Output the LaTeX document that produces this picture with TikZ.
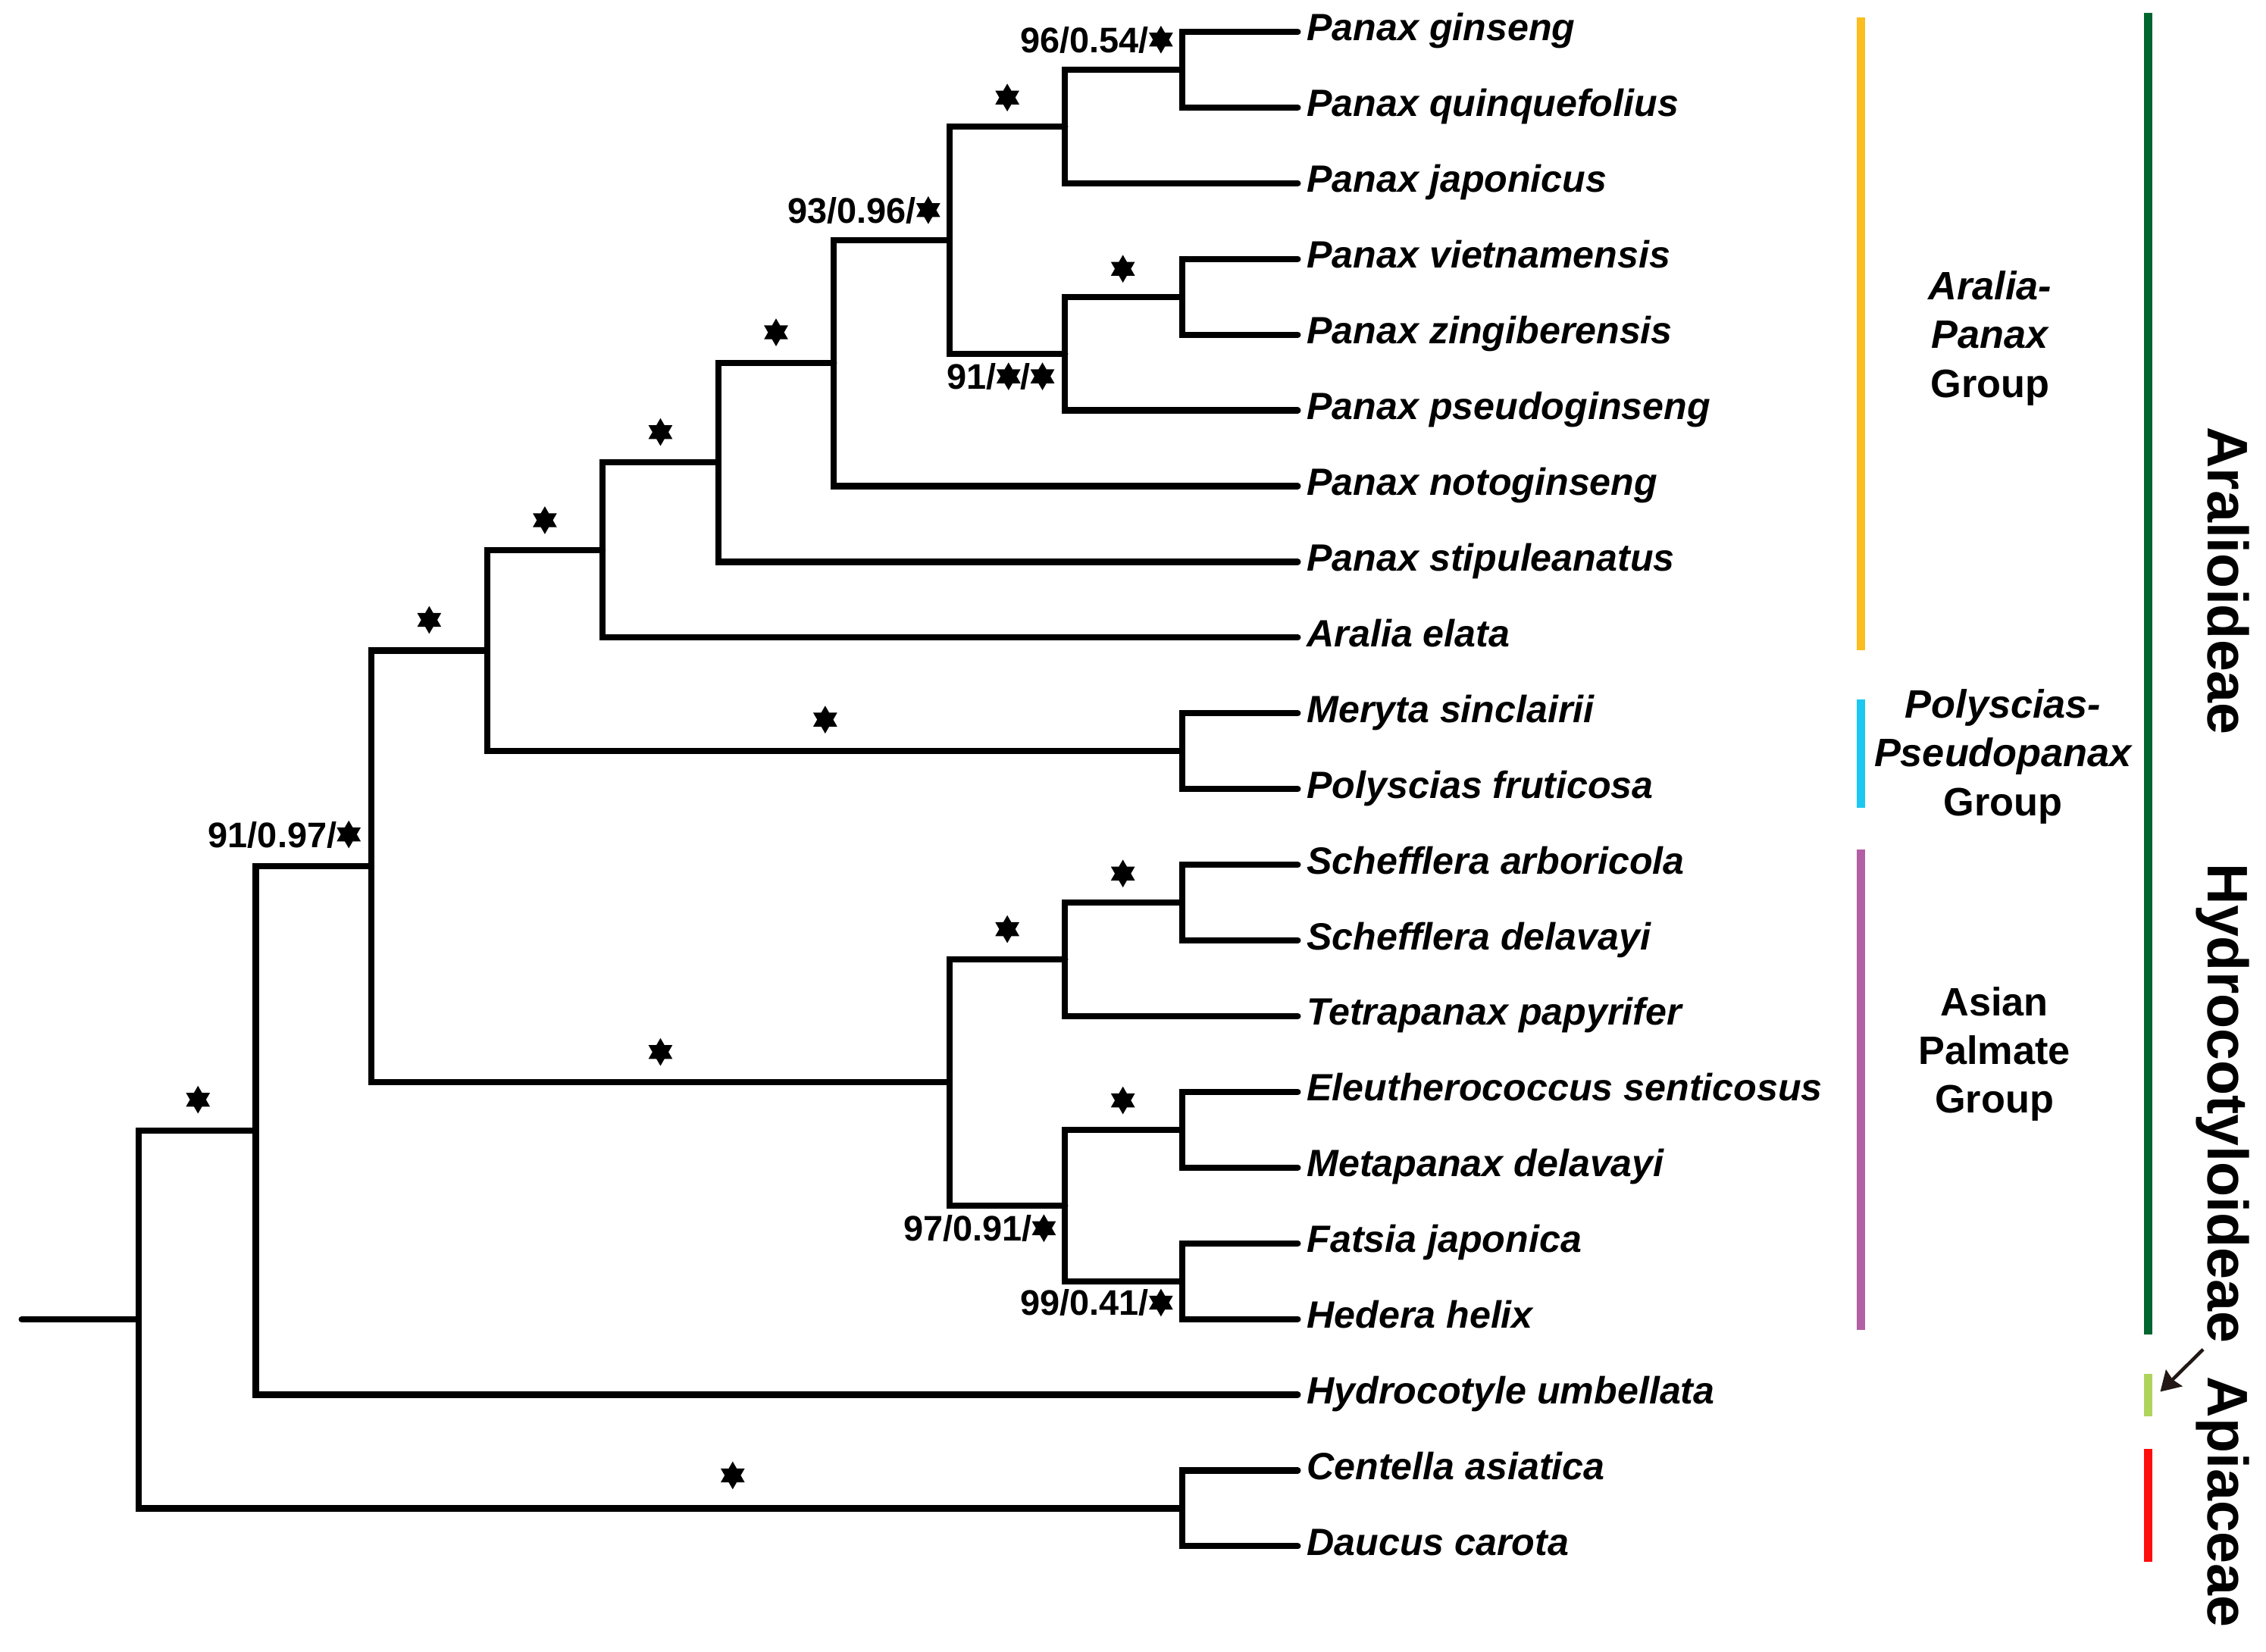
\documentclass[tikz,border=0pt]{standalone}
\usepackage{fontspec}
\setmainfont{Liberation Sans}
\usepackage{xcolor}
\usetikzlibrary{arrows.meta}

\definecolor{araliapanax}{HTML}{FBBD1F}
\definecolor{polyscias}{HTML}{1CC7F1}
\definecolor{palmate}{HTML}{B35FA5}
\definecolor{aralioid}{HTML}{00652E}
\definecolor{hydrocot}{HTML}{B0D35C}
\definecolor{apiac}{HTML}{FF0E0E}
\definecolor{pointer}{HTML}{231815}

\newcommand{\leaffont}{\fontsize{14.97pt}{18pt}\selectfont\bfseries\itshape}
\newcommand{\supfont}{\fontsize{14pt}{16pt}\selectfont\bfseries}
\newcommand{\groupfont}{\fontsize{15.6pt}{19.2pt}\selectfont\bfseries}
\newcommand{\cladefont}{\fontsize{22.5pt}{26pt}\selectfont\bfseries}

\tikzset{
  hexstar/.pic={\fill (0,1.92mm) -- (-1.663mm,-0.96mm) -- (1.663mm,-0.96mm) -- cycle
                 (0,-1.92mm) -- (1.663mm,0.96mm) -- (-1.663mm,0.96mm) -- cycle;},
  branch/.style={line width=0.86mm, line join=miter, line cap=round},
  leaf/.style={anchor=west, font=\leaffont, inner xsep=1.2mm, inner ysep=0pt,
               text height=0.716em, text depth=0pt},
  support/.style={anchor=east, font=\supfont, inner sep=0pt,
                  text height=0.716em, text depth=0pt},
  grouplabel/.style={align=center, font=\groupfont, inner sep=0pt},
  clade/.style={rotate=-90, anchor=base, font=\cladefont, inner sep=0pt},
  cladebar/.style={line width=1.2mm}
}
\newcommand{\hstar}{\tikz[baseline=-0.36em]\pic{hexstar};}

\begin{document}
\begin{tikzpicture}[x=0.2mm, y=-0.2mm]
\useasboundingbox (0,0) rectangle (1568,1142.7);

% taxa
\foreach \name/\txt [count=\i] in {gin/Panax ginseng, qui/Panax quinquefolius,
    jap/Panax japonicus, vie/Panax vietnamensis, zin/Panax zingiberensis,
    pse/Panax pseudoginseng, ntg/Panax notoginseng, sti/Panax stipuleanatus,
    ael/Aralia elata, mer/Meryta sinclairii, pol/Polyscias fruticosa,
    sar/Schefflera arboricola, sde/Schefflera delavayi, tet/Tetrapanax papyrifer,
    ele/Eleutherococcus senticosus, met/Metapanax delavayi, fat/Fatsia japonica,
    hed/Hedera helix, hyd/Hydrocotyle umbellata, cen/Centella asiatica,
    dau/Daucus carota}
  \node[leaf] (\name) at (898,{22+52.4*(\i-1)}) {\txt};

% internal nodes
\coordinate (rt) at (15,913.1);
\coordinate (n1) at (96,913.1);
\coordinate (n2) at (177,782.4);
\coordinate (n3) at (257,599.6);
\coordinate (n4) at (337,450.2);
\coordinate (n5) at (417,380.6);
\coordinate (n6) at (497,320.0);
\coordinate (n7) at (577,251.25);
\coordinate (n8) at (657,166.1);
\coordinate (n9) at (737,87.5);
\coordinate (n10) at (818,48.2);
\coordinate (n11) at (737,244.7);
\coordinate (n12) at (818,205.4);
\coordinate (n13) at (818,519.8);
\coordinate (n14) at (657,749.05);
\coordinate (n15) at (737,663.9);
\coordinate (n16) at (818,624.6);
\coordinate (n17) at (737,834.2);
\coordinate (n18) at (818,781.8);
\coordinate (n19) at (818,886.6);
\coordinate (n20) at (818,1043.8);

% branches
\draw[branch] (rt) -- (n1);
\draw[branch] (n2) -| (n1) |- (n20);
\draw[branch] (n3) -| (n2) |- (hyd.west);
\draw[branch] (n4) -| (n3) |- (n14);
\draw[branch] (n5) -| (n4) |- (n13);
\draw[branch] (n6) -| (n5) |- (ael.west);
\draw[branch] (n7) -| (n6) |- (sti.west);
\draw[branch] (n8) -| (n7) |- (ntg.west);
\draw[branch] (n9) -| (n8) |- (n11);
\draw[branch] (n10) -| (n9) |- (jap.west);
\draw[branch] (gin.west) -| (n10) |- (qui.west);
\draw[branch] (n12) -| (n11) |- (pse.west);
\draw[branch] (vie.west) -| (n12) |- (zin.west);
\draw[branch] (mer.west) -| (n13) |- (pol.west);
\draw[branch] (n15) -| (n14) |- (n17);
\draw[branch] (n16) -| (n15) |- (tet.west);
\draw[branch] (sar.west) -| (n16) |- (sde.west);
\draw[branch] (n18) -| (n17) |- (n19);
\draw[branch] (ele.west) -| (n18) |- (met.west);
\draw[branch] (fat.west) -| (n19) |- (hed.west);
\draw[branch] (cen.west) -| (n20) |- (dau.west);

% full support stars
\foreach \sx/\sy in {697/67.5, 777/186, 537/230, 457/299, 377/360, 297/429,
    571/498, 137/761, 457/728, 697/643, 777/604.5, 777/761.5, 507/1021}
  \pic at (\sx,\sy) {hexstar};

% support values
\node[support] (bs1) at (812,30) {96/0.54/\hstar};
\node[support] (bs2) at (651,148) {93/0.96/\hstar};
\node[support] (bs3) at (730,263) {91/\hstar/\hstar};
\node[support] (bs4) at (250,580) {91/0.97/\hstar};
\node[support] (bs5) at (731,852.5) {97/0.91/\hstar};
\node[support] (bs6) at (812,904) {99/0.41/\hstar};

% groups
\draw[cladebar, araliapanax] (1287.7,12.2) -- (1287.7,449.7);
\draw[cladebar, polyscias] (1287.7,484) -- (1287.7,559);
\draw[cladebar, palmate] (1287.7,587.7) -- (1287.7,920.4);
\node[grouplabel] (apg) at (1377,234) {{\itshape Aralia-}\\{\itshape Panax}\\Group};
\node[grouplabel] (ppg) at (1386,523.5) {{\itshape Polyscias-}\\{\itshape Pseudopanax}\\Group};
\node[grouplabel] (apa) at (1380,729.5) {Asian\\Palmate\\Group};

% subfamilies
\draw[cladebar, aralioid] (1486.3,8.8) -- (1486.3,923.3);
\draw[cladebar, hydrocot] (1486.3,951) -- (1486.3,980.3);
\draw[cladebar, apiac] (1486.3,1002.7) -- (1486.3,1081);
\node[clade] (ara) at (1528,402) {Aralioideae};
\node[clade] (hyc) at (1528,763.5) {Hydrocotyloideae};
\node[clade] (api) at (1528,1039.5) {Apiaceae};
\coordinate (ptr) at (1524.5,933.8);
\coordinate (hbar) at (1494.8,963.1);
\draw[pointer, line width=0.48mm,
      -{Stealth[length=2.7mm,width=3.2mm,inset=0.3mm]}] (ptr) -- (hbar);
\end{tikzpicture}
\end{document}
